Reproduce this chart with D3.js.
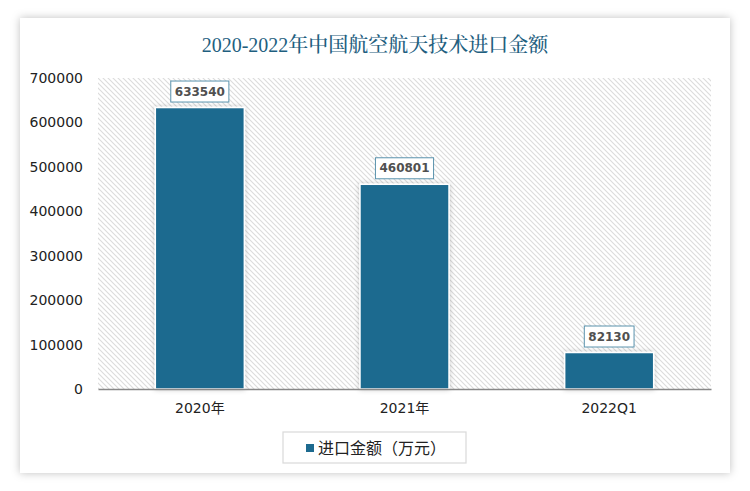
<!DOCTYPE html>
<html><head><meta charset="utf-8">
<script src="https://cdn.jsdelivr.net/npm/d3@7"></script>
<style>body{margin:0;background:#fff;}svg{display:block;}</style>
</head><body>
<svg id="c" width="750" height="491"></svg>
<script>
const categories = ["2020年", "2021年", "2022Q1"];
const values = [633540, 460801, 82130];
const yTicks = [0, 100000, 200000, 300000, 400000, 500000, 600000, 700000];
const title = "2020-2022年中国航空航天技术进口金额";
const seriesName = "进口金额（万元）";

const svg = d3.select("#c");
const defs = svg.append("defs");
const f = defs.append("filter").attr("id","sh").attr("x","-10%").attr("y","-10%").attr("width","120%").attr("height","120%");
f.append("feDropShadow").attr("dx",0).attr("dy",0).attr("stdDeviation",4).attr("flood-color","#000").attr("flood-opacity",0.25);
const fb = defs.append("filter").attr("id","bsh").attr("x","-20%").attr("y","-20%").attr("width","140%").attr("height","140%");
fb.append("feDropShadow").attr("dx",0).attr("dy",0).attr("stdDeviation",2.5).attr("flood-color","#000").attr("flood-opacity",0.22);
const pat = defs.append("pattern").attr("id","hatch").attr("patternUnits","userSpaceOnUse").attr("width",5).attr("height",5);
pat.append("rect").attr("width",5).attr("height",5).attr("fill","#fff");
pat.append("path").attr("d","M-1,-1 L6,6 M-1,4 L1,6 M4,-1 L6,1").attr("stroke","#dcdcdc").attr("stroke-width",1.1);

// card
svg.append("rect").attr("x",20).attr("y",18).attr("width",710).attr("height",455).attr("fill","#fff").attr("filter","url(#sh)");

svg.append("text").attr("x",375).attr("y",52).attr("text-anchor","middle")
  .attr("font-family","'Liberation Serif','Noto Serif CJK SC','Noto Sans CJK SC',serif").attr("font-size",20)
  .attr("font-weight",500).attr("fill","#1f5f7f").text(title);

const m = {l:98, r:711, t:78, b:389};
const x = d3.scaleBand().domain(categories).range([m.l, m.r]).paddingInner(0.565).paddingOuter(0.28);
const y = d3.scaleLinear().domain([0,700000]).range([m.b, m.t]);

svg.append("rect").attr("x",m.l).attr("y",m.t).attr("width",m.r-m.l).attr("height",m.b-m.t).attr("fill","url(#hatch)");

const ya = svg.append("g").attr("transform",`translate(${m.l},0)`)
  .call(d3.axisLeft(y).tickValues(yTicks).tickFormat(d3.format("d")).tickSize(0).tickPadding(15));
ya.select(".domain").remove();
ya.selectAll("text").attr("font-family","'DejaVu Sans',sans-serif").attr("font-size",14).attr("fill","#222");

svg.selectAll(".bar").data(values).join("rect").attr("class","bar")
  .attr("x",(d,i)=>x(categories[i])).attr("width",x.bandwidth())
  .attr("y",d=>y(d)).attr("height",d=>y(0)-y(d))
  .attr("fill","#1d6a8f").attr("stroke","#fff").attr("stroke-width",1.5).attr("filter","url(#bsh)");

const xa = svg.append("g").attr("transform",`translate(0,${m.b})`)
  .call(d3.axisBottom(x).tickSize(0).tickPadding(14));
xa.select(".domain").attr("stroke","#888").attr("stroke-width",1.5);
xa.selectAll("text").attr("font-family","'DejaVu Sans','Noto Sans CJK SC',sans-serif").attr("font-size",14).attr("fill","#222");

const lab = svg.selectAll(".lab").data(values).join("g").attr("class","lab")
  .attr("transform",(d,i)=>`translate(${x(categories[i])+x.bandwidth()/2},${y(d)-16})`);
lab.each(function(d){
  const g = d3.select(this);
  const t = g.append("text").attr("text-anchor","middle").attr("dy","0.35em")
    .attr("font-family","'DejaVu Sans',sans-serif").attr("font-size",12).attr("font-weight","bold").attr("fill","#505050").text(d);
  const w = t.node().getComputedTextLength()+8;
  g.insert("rect","text").attr("x",-w/2).attr("y",-10.5).attr("width",w).attr("height",21)
    .attr("fill","#fff").attr("stroke","#5a93ad").attr("stroke-width",1);
});

// legend
const lg = svg.append("g");
lg.append("rect").attr("x",283).attr("y",432).attr("width",183).attr("height",31).attr("fill","#fff").attr("stroke","#d9d9d9").attr("stroke-width",1.2);
lg.append("rect").attr("x",306).attr("y",444).attr("width",8).attr("height",8).attr("fill","#1d6a8f");
lg.append("text").attr("x",318).attr("y",454).attr("font-family","'Noto Sans CJK SC',sans-serif").attr("font-size",16).attr("fill","#222").text(seriesName);
</script>
</body></html>
